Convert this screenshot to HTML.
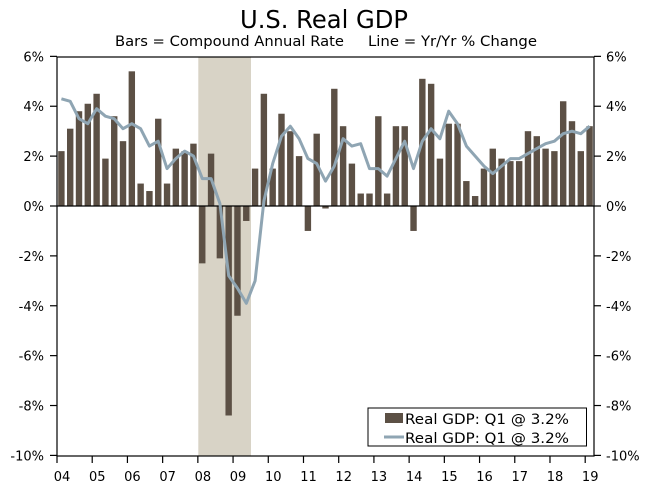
<!DOCTYPE html>
<html><head><meta charset="utf-8"><style>
html,body{margin:0;padding:0;background:#fff;}
svg{display:block;font-family:"DejaVu Sans","Liberation Sans",sans-serif;}
</style></head><body>
<svg id="chart" width="656" height="490" viewBox="0 0 656 490">
<text x="324" y="28" font-size="25" text-anchor="middle" textLength="168" lengthAdjust="spacingAndGlyphs" fill="#000">U.S. Real GDP</text>
<text x="115" y="46" font-size="14" textLength="229" lengthAdjust="spacingAndGlyphs" fill="#000">Bars = Compound Annual Rate</text>
<text x="368" y="46" font-size="14" textLength="169" lengthAdjust="spacingAndGlyphs" fill="#000">Line = Yr/Yr % Change</text>
<rect x="198.3" y="57" width="52.7" height="399" fill="#d8d3c6"/>
<g id="bars"></g>
<line x1="57" x2="594" y1="206" y2="206" stroke="#000" stroke-width="1.2"/>
<polyline id="line" fill="none" stroke="#8fa5b3" stroke-width="3" stroke-linejoin="round"/>
<rect x="57" y="57" width="537" height="399" fill="none" stroke="#000" stroke-width="1.2"/>
<g id="axes"></g>
<g>
<rect x="368" y="408" width="218.5" height="38" fill="#fff" stroke="#000" stroke-width="1"/>
<rect x="385" y="413" width="18" height="10" fill="#5c5045"/>
<text x="405" y="424" font-size="14" textLength="164" lengthAdjust="spacingAndGlyphs" fill="#000">Real GDP: Q1 @ 3.2%</text>
<line x1="384" x2="404" y1="437" y2="437" stroke="#8fa5b3" stroke-width="3"/>
<text x="405" y="443" font-size="14" textLength="164" lengthAdjust="spacingAndGlyphs" fill="#000">Real GDP: Q1 @ 3.2%</text>
</g>
</svg>
<script>
const barValues=[2.2,3.1,3.8,4.1, 4.5,1.9,3.6,2.6, 5.4,0.9,0.6,3.5, 0.9,2.3,2.2,2.5, -2.3,2.1,-2.1,-8.4, -4.4,-0.6,1.5,4.5, 1.5,3.7,3.0,2.0, -1.0,2.9,-0.1,4.7, 3.2,1.7,0.5,0.5, 3.6,0.5,3.2,3.2, -1.0,5.1,4.9,1.9, 3.3,3.3,1.0,0.4, 1.5,2.3,1.9,1.8, 1.8,3.0,2.8,2.3, 2.2,4.2,3.4,2.2, 3.2];
const lineValues=[4.3,4.2,3.5,3.3, 3.9,3.6,3.5,3.1, 3.3,3.1,2.4,2.6, 1.5,1.9,2.2,2.0, 1.1,1.1,0.1,-2.8, -3.3,-3.9,-3.0,0.2, 1.7,2.8,3.2,2.7, 1.9,1.7,1.0,1.6, 2.7,2.4,2.5,1.5, 1.5,1.2,1.9,2.6, 1.5,2.6,3.1,2.7, 3.8,3.3,2.4,2.0, 1.6,1.3,1.6,1.9, 1.9,2.1,2.3,2.5, 2.6,2.9,3.0,2.9, 3.2];
const yTicks=[6,4,2,0,-2,-4,-6,-8,-10];
const yearLabels=["04","05","06","07","08","09","10","11","12","13","14","15","16","17","18","19"];
const NS="http://www.w3.org/2000/svg";
const X0=57,X1=594,Q=(X1-X0)/61;
function y(v){return 206-(v)*24.94;}
function xc(i){return X0+(i+0.5)*Q;}
const bars=document.getElementById('bars');
barValues.forEach((v,i)=>{
 const r=document.createElementNS(NS,'rect');
 r.setAttribute('x',xc(i)-3.2);r.setAttribute('width',6.4);
 r.setAttribute('y',Math.min(y(v),y(0)));r.setAttribute('height',Math.abs(y(v)-y(0)));
 r.setAttribute('fill','#5c5045');
 
 
 bars.appendChild(r);
});
document.getElementById('line').setAttribute('points',lineValues.map((v,i)=>xc(i).toFixed(1)+','+y(v).toFixed(1)).join(' '));
const ax=document.getElementById('axes');
function add(tag,attrs,txt){const e=document.createElementNS(NS,tag);for(const k in attrs)e.setAttribute(k,attrs[k]);if(txt!=null)e.textContent=txt;ax.appendChild(e);return e;}
yTicks.forEach(t=>{
 const yy=y(t);
 add('line',{x1:50,x2:57,y1:yy,y2:yy,stroke:'#000','stroke-width':1.2});
 add('line',{x1:594,x2:601,y1:yy,y2:yy,stroke:'#000','stroke-width':1.2});
 const l=add('text',{x:44,y:yy+5,'font-size':13,'text-anchor':'end',fill:'#000'},t+'%');
 
 
 const r=add('text',{x:606,y:yy+5,'font-size':13,fill:'#000'},t+'%');
 
 
});
yearLabels.forEach((s,i)=>{
 const xx=X0+i*4*Q;
 add('line',{x1:xx,x2:xx,y1:456,y2:463,stroke:'#000','stroke-width':1.2});
 const l=add('text',{x:xx+5,y:481,'font-size':13,'text-anchor':'middle',fill:'#000'},s);
 
 
});
</script>
</body></html>
